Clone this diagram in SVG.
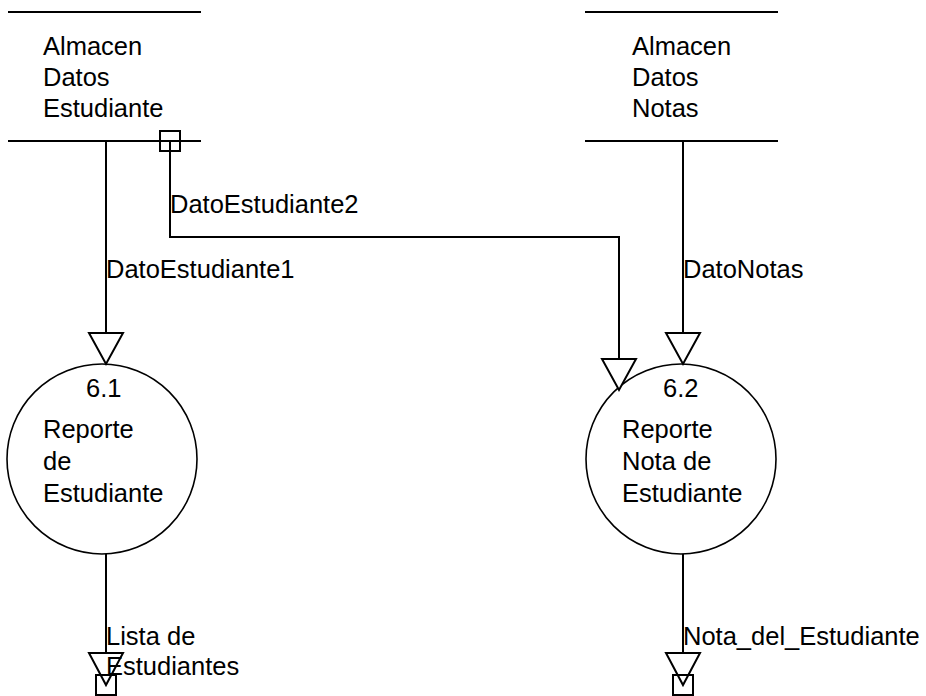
<svg xmlns="http://www.w3.org/2000/svg" width="926" height="696" viewBox="0 0 926 696">
  <style>
    .ln { stroke: #000; stroke-width: 2; fill: none; }
    .head { stroke: #000; stroke-width: 2; fill: #fff; stroke-linejoin: miter; }
    .box { stroke: #000; stroke-width: 2; fill: none; }
    .proc { stroke: #000; stroke-width: 1.6; fill: #fff; }
    text { font-family: "Liberation Sans", Arial, sans-serif; font-size: 25.5px; fill: #000; }
  </style>
  <rect width="926" height="696" fill="#fff"/>

  <!-- data stores -->
  <g id="store-estudiante">
    <line class="ln" x1="8" y1="12" x2="201" y2="12"/>
    <line class="ln" x1="8" y1="141" x2="201" y2="141"/>
    <text x="43" y="55">Almacen</text>
    <text x="43" y="86">Datos</text>
    <text x="43" y="117">Estudiante</text>
  </g>
  <g id="store-notas">
    <line class="ln" x1="585" y1="12" x2="778" y2="12"/>
    <line class="ln" x1="585" y1="141" x2="778" y2="141"/>
    <text x="632" y="55">Almacen</text>
    <text x="632" y="86">Datos</text>
    <text x="632" y="117">Notas</text>
  </g>

  <!-- processes -->
  <g id="proc-6-1">
    <circle class="proc" cx="102" cy="459" r="95"/>
    <text x="86" y="397">6.1</text>
    <text x="43" y="438">Reporte</text>
    <text x="43" y="470">de</text>
    <text x="43" y="502">Estudiante</text>
  </g>
  <g id="proc-6-2">
    <circle class="proc" cx="681" cy="459" r="95"/>
    <text x="663" y="397">6.2</text>
    <text x="622" y="438">Reporte</text>
    <text x="622" y="470">Nota de</text>
    <text x="622" y="502">Estudiante</text>
  </g>

  <!-- data flows -->
  <g id="connectors">
    <!-- DatoEstudiante1 -->
    <line class="ln" x1="106" y1="141" x2="106" y2="333"/>
    <polygon class="head" points="89,333 123,333 106,364"/>
    <text x="106" y="278">DatoEstudiante1</text>

    <!-- DatoEstudiante2 -->
    <rect class="box" x="160" y="131" width="20" height="20"/>
    <path class="ln" d="M170,141 V237 H619 V359"/>
    <polygon class="head" points="602,359 636,359 619,390"/>
    <text x="170" y="213">DatoEstudiante2</text>

    <!-- DatoNotas -->
    <line class="ln" x1="683" y1="141" x2="683" y2="333"/>
    <polygon class="head" points="666,333 700,333 683,364"/>
    <text x="683" y="278">DatoNotas</text>

    <!-- Lista de Estudiantes -->
    <line class="ln" x1="106" y1="554" x2="106" y2="653"/>
    <polygon class="head" points="89,653 123,653 106,685"/>
    <rect class="box" x="96" y="675" width="20" height="20"/>
    <text x="106" y="645">Lista de</text>
    <text x="106" y="675">Estudiantes</text>

    <!-- Nota_del_Estudiante -->
    <line class="ln" x1="683" y1="554" x2="683" y2="653"/>
    <polygon class="head" points="666,653 700,653 683,685"/>
    <rect class="box" x="673" y="675" width="20" height="20"/>
    <text x="683" y="645">Nota_del_Estudiante</text>
  </g>
</svg>
